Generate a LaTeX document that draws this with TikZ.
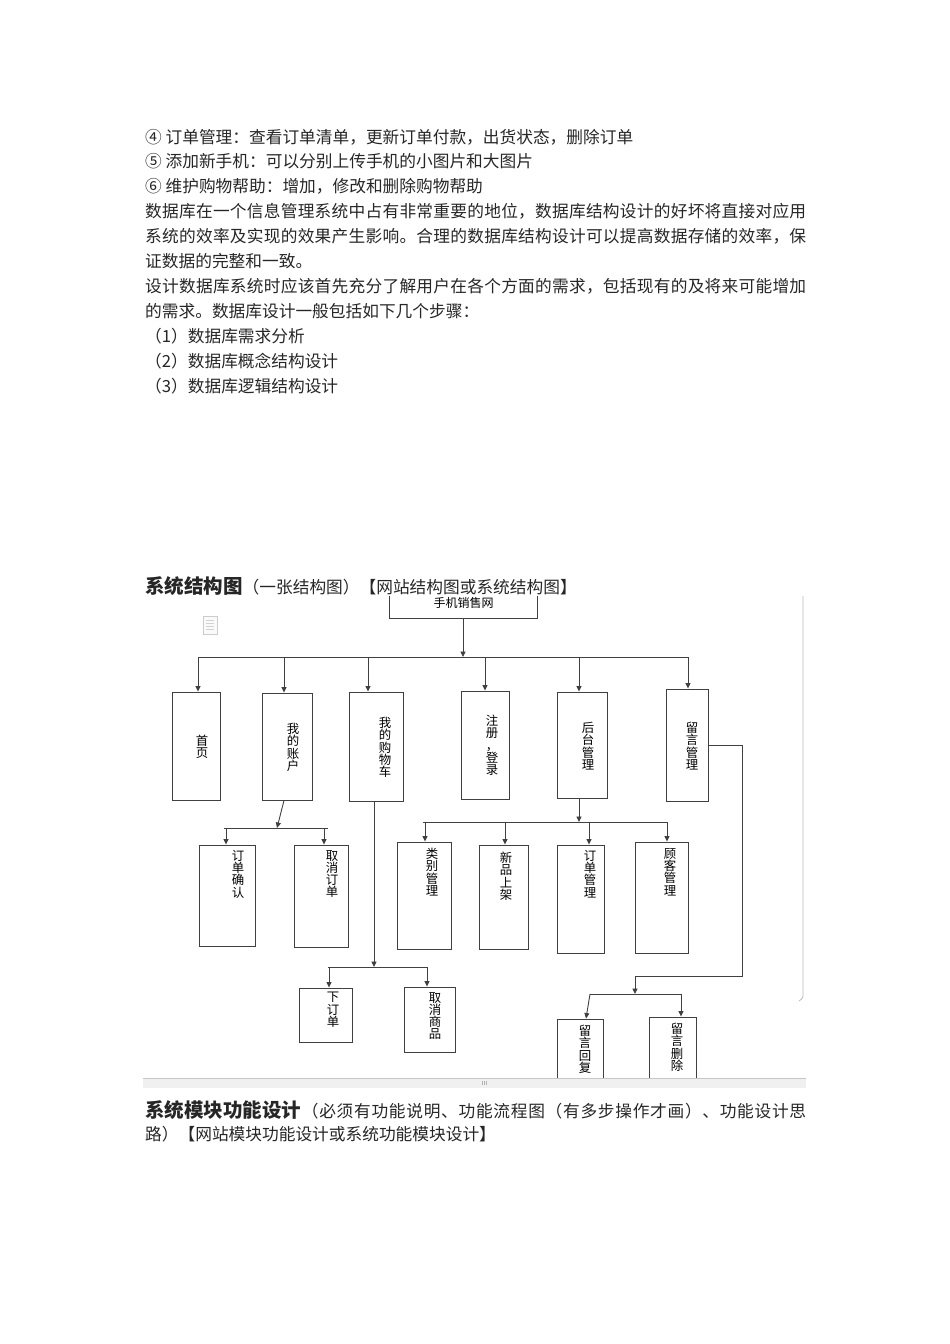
\documentclass[tikz,border=0pt]{standalone}
\usepackage{fontspec}
\setmainfont{Noto Sans CJK SC}
\usetikzlibrary{arrows.meta}
% spread a line of characters over the full text width
\newcommand\spreadtok[1]{\ifx#1\relax\else\hfil#1\expandafter\spreadtok\fi}
\newcommand\justfirst[1]{#1\spreadtok}
\newcommand\justline[1]{\hbox to 661pt{\justfirst#1\relax}}
\newcommand\headfont{\fontsize{19.5}{22}\selectfont\bfseries}
\begin{document}
\begin{tikzpicture}[x=1pt,y=-1pt,>={Triangle[length=5.5pt,width=5pt]},
	body/.style={anchor=base west,inner sep=0pt,font=\fontsize{16.7}{20}\selectfont,text=black!85},
	modbox/.style={draw=black!75,line width=0.9pt,inner sep=0pt,fill=white},
	vtext/.style={anchor=north,align=center,inner sep=0pt,font=\fontsize{12.4}{12.3}\selectfont},
	link/.style={draw=black!75,line width=0.9pt}]
	\useasboundingbox (0,0) rectangle (950,1344);
	% page text
	\node[body] (t1) at (145,143) {④ 订单管理：查看订单清单，更新订单付款，出货状态，删除订单};
	\node[body] (t2) at (145,167.9) {⑤ 添加新手机：可以分别上传手机的小图片和大图片};
	\node[body] (t3) at (145,192.8) {⑥ 维护购物帮助：增加，修改和删除购物帮助};
	\node[body] (t4) at (145,217.7) {\justline{数据库在一个信息管理系统中占有非常重要的地位，数据库结构设计的好坏将直接对应用}};
	\node[body] (t5) at (145,242.6) {\justline{系统的效率及实现的效果产生影响。合理的数据库结构设计可以提高数据存储的效率，保}};
	\node[body] (t6) at (145,267.5) {证数据的完整和一致。};
	\node[body] (t7) at (145,292.4) {\justline{设计数据库系统时应该首先充分了解用户在各个方面的需求，包括现有的及将来可能增加}};
	\node[body] (t8) at (145,317.3) {的需求。数据库设计一般包括如下几个步骤：};
	\node[body] (t9) at (145,342.2) {（1）数据库需求分析};
	\node[body] (t10) at (145,367.1) {（2）数据库概念结构设计};
	\node[body] (t11) at (145,392) {（3）数据库逻辑结构设计};
	\node[body] (head) at (145,593) {{\headfont 系统结构图}（一张结构图）【网站结构图或系统结构图】};
	\node[body] (foot1) at (145,1117.5) {\hbox to 661pt{{\headfont 系统模块功能设计}\spreadtok （必须有功能说明、功能流程图（有多步操作才画）、功能设计思\relax}};
	\node[body] (foot2) at (145,1140.5) {路）【网站模块功能设计或系统功能模块设计】};
	% structure chart
	\begin{scope}
		\clip (143,588) rectangle (806,1078);
		\draw[gray!40,fill=gray!4] (203,616) rectangle (217,634);
		\foreach \y in {620,623,...,631} \draw[gray!35] (206,\y) -- (214,\y);
		\draw[gray!55,line width=0.8pt] (803,596) -- (803,993) .. controls (803,998) .. (799,1001);
		\node[inner sep=0pt,minimum width=147pt,minimum height=30pt,font=\fontsize{12}{12}\selectfont] (web) at (463.5,603) {手机销售网};
		\draw[link] ([yshift=22pt]web.south west) -- (web.south west) -- (web.south east) -- ([yshift=22pt]web.south east);
		% first level
		\node[modbox,minimum width=48pt,minimum height=108pt] (home) at (196,746) {};
		\node[modbox,minimum width=50pt,minimum height=107pt] (acct) at (287,746.5) {};
		\node[modbox,minimum width=54pt,minimum height=109pt] (cart) at (376,746.5) {};
		\node[modbox,minimum width=48pt,minimum height=108pt] (login) at (485,745) {};
		\node[modbox,minimum width=50pt,minimum height=106pt] (admin) at (582,745) {};
		\node[modbox,minimum width=42pt,minimum height=112pt] (msg) at (687,745) {};
		\node[vtext] at (202,735) {首\\页};
		\node[vtext] at (293,723) {我\\的\\账\\户};
		\node[vtext] at (385,717) {我\\的\\购\\物\\车};
		\node[vtext] at (492,715) {注\\册\\，\\登\\录};
		\node[vtext] at (588,722) {后\\台\\管\\理};
		\node[vtext] at (692,722) {留\\言\\管\\理};
		% second level
		\node[modbox,minimum width=56pt,minimum height=101pt] (confirm) at (227,895.5) {};
		\node[modbox,minimum width=54pt,minimum height=102pt] (cancel) at (321,896) {};
		\node[modbox,minimum width=53pt,minimum height=54pt] (place) at (325.5,1015) {};
		\node[modbox,minimum width=51pt,minimum height=65pt] (remove) at (429.5,1019.5) {};
		\node[modbox,minimum width=54pt,minimum height=107pt] (cat) at (424,895.5) {};
		\node[modbox,minimum width=49pt,minimum height=104pt] (newp) at (503.5,897) {};
		\node[modbox,minimum width=47pt,minimum height=108pt] (order) at (580.5,899) {};
		\node[modbox,minimum width=53pt,minimum height=111pt] (cust) at (661.5,897.5) {};
		\node[modbox,minimum width=46pt,minimum height=81pt] (reply) at (580,1059.5) {};
		\node[modbox,minimum width=47pt,minimum height=83pt] (del) at (672.5,1058.5) {};
		\node[vtext] at (238,850) {订\\单\\确\\认};
		\node[vtext] at (332,850) {取\\消\\订\\单};
		\node[vtext] at (333,992) {下\\订\\单};
		\node[vtext] at (435,992) {取\\消\\商\\品};
		\node[vtext] at (432,848) {类\\别\\管\\理};
		\node[vtext] at (506,852) {新\\品\\上\\架};
		\node[vtext] at (590,850) {订\\单\\管\\理};
		\node[vtext] at (670,848) {顾\\客\\管\\理};
		\node[vtext] at (585,1025) {留\\言\\回\\复};
		\node[vtext] at (677,1023) {留\\言\\删\\除};
		% connectors
		\coordinate (bus0) at (463,657);
		\draw[link,->] (web.south -| bus0) -- (bus0);
		\foreach \n/\x in {home/198,acct/284,cart/368,login/485,admin/579,msg/688}{
			\coordinate (d\n) at (\x,657);
			\draw[link,->] (d\n) -- (d\n |- \n.north);
		}
		\draw[link] (dhome) -- (dmsg);
		% my account
		\coordinate (sa) at (277,828);
		\draw[link,->] ([xshift=-3pt]acct.south) -- (sa);
		\foreach \n/\x in {confirm/226,cancel/324}{
			\coordinate (d\n) at (\x,828);
			\draw[link,->] (d\n) -- (d\n |- \n.north);
		}
		\draw[link] ([xshift=-2pt]dconfirm) -- ([xshift=4pt]dcancel);
		% shopping cart
		\coordinate (sc) at (374,967);
		\draw[link,->] (cart.south -| sc) -- (sc);
		\foreach \n/\x in {place/329,remove/427}{
			\coordinate (d\n) at (\x,967);
			\draw[link,->] (d\n) -- (d\n |- \n.north);
		}
		\draw[link] ([xshift=-1pt]dplace) -- (dremove);
		% back end
		\coordinate (sd) at (579,822);
		\draw[link,->] (admin.south -| sd) -- (sd);
		\foreach \n/\x in {cat/425,newp/505,order/589,cust/667}{
			\coordinate (d\n) at (\x,822);
			\draw[link,->] (d\n) -- (d\n |- \n.north);
		}
		\draw[link] ([xshift=-2pt]dcat) -- (dcust);
		% messages
		\coordinate (me) at (742,745);
		\coordinate (mc) at (635,976);
		\coordinate (sm) at (635,994);
		\draw[link] (msg.east |- me) -- (me) -- (me |- mc) -- (mc);
		\draw[link,->] (mc) -- (sm);
		\coordinate (dreply) at (590,994);
		\coordinate (ddel) at (681,994);
		\draw[link] (dreply) -- (ddel);
		\draw[link,->] (dreply) -- ([xshift=6pt]reply.north);
		\draw[link,->] (ddel) -- (ddel |- del.north);
	\end{scope}
	% scroll bar under the chart
	\fill[gray!12] (143,1078) rectangle (806,1088);
	\draw[gray!45] (143,1078) -- (806,1078);
	\foreach \x in {482,484,486} \draw[gray!60,line width=0.6pt] (\x,1081) -- (\x,1085);
\end{tikzpicture}
\end{document}
